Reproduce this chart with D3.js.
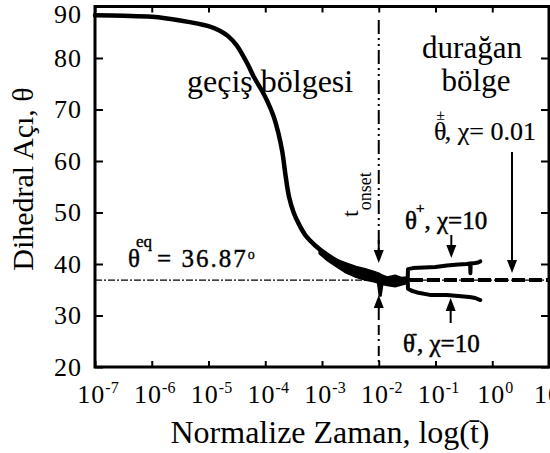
<!DOCTYPE html>
<html>
<head>
<meta charset="utf-8">
<script src="https://cdn.jsdelivr.net/npm/d3@7"></script>
<style>
  html, body { margin: 0; padding: 0; background: #fff; }
  svg { display: block; }
  svg text { font-family: 'Liberation Serif', 'Times New Roman', Times, serif; fill: #000; }
</style>
</head>
<body>
<svg id="chart" width="550" height="453"></svg>
<script>
// Dihedral angle relaxation versus normalised time

// tick values
const xDecades = [-7, -6, -5, -4, -3, -2, -1, 0, 1];
const yTicks = [20, 30, 40, 50, 60, 70, 80, 90];

// equilibrium angle
const thetaEq = 36.87;
const tOnset = 1e-2;

// common transition curve (log10 t, theta in degrees)
const mainLogT  = [-7.0, -6.5, -6.0, -5.5, -5.0, -4.8, -4.65, -4.5, -4.4, -4.3, -4.2, -4.05, -3.95, -3.85, -3.77, -3.70, -3.64, -3.58, -3.50, -3.40, -3.28, -3.12, -2.95, -2.75, -2.55, -2.35, -2.15, -2.0, -1.85, -1.70, -1.55, -1.48];
const mainTheta = [88.3, 88.2, 88.0, 87.3, 86.2, 85.3, 84.2, 82.4, 80.6, 78.6, 76.3, 73.5, 71.3, 68.6, 65.5, 61.8, 57.0, 53.0, 50.0, 47.6, 45.4, 43.6, 42.1, 40.7, 39.6, 38.8, 38.0, 37.4, 37.1, 36.9, 37.0, 37.0];

// spread of the overlapping runs close to equilibrium
const bandLogT  = [-3.05, -2.9, -2.75, -2.6, -2.4, -2.24, -2.07, -2.02, -1.99, -1.96, -1.93, -1.85, -1.71, -1.6, -1.5];
const bandUpper = [42.6, 41.6, 40.9, 40.3, 39.5, 39.1, 38.5, 38.3, 38.2, 38.0, 37.8, 37.5, 37.8, 37.4, 37.5];
const bandLower = [42.0, 40.6, 39.5, 38.4, 37.4, 36.9, 36.5, 36.3, 33.8, 33.8, 36.0, 35.8, 35.6, 35.9, 36.2];

// chi = 10 branches
const plusLogT   = [-1.49, -1.485, -1.40, -1.2, -1.0, -0.8, -0.6, -0.45, -0.39, -0.385, -0.38, -0.30, -0.25, -0.21];
const plusTheta  = [37.0, 39.0, 39.2, 39.3, 39.4, 39.7, 39.9, 40.0, 40.1, 38.2, 40.1, 40.2, 40.3, 40.5];
const minusLogT  = [-1.49, -1.485, -1.42, -1.3, -1.1, -0.8, -0.6, -0.4, -0.3, -0.21];
const minusTheta = [37.0, 35.2, 34.8, 34.4, 34.0, 34.0, 33.8, 33.6, 33.4, 33.0];

// chi = 0.01 run
const steadyLogT  = [-1.45, 1.0];
const steadyTheta = [36.9, 36.9];

const FONT = "Liberation Serif";
const svg = d3.select("#chart").attr("font-family", FONT);
const mLeft = 95, mRight = 549, mTop = 6.5, mBottom = 367;

const x = d3.scaleLog().domain([1e-7, 1e1]).range([mLeft, mRight]);
const y = d3.scaleLinear().domain([20, 90]).range([mBottom, mTop]);

const pts = (lt, th) => lt.map((v, i) => [Math.pow(10, v), th[i]]);
const label = (sel) => sel.append("text").attr("font-family", FONT).attr("fill", "#000");

// equilibrium reference line
svg.append("line")
  .attr("x1", mLeft).attr("x2", mRight)
  .attr("y1", y(thetaEq)).attr("y2", y(thetaEq))
  .attr("stroke", "#000").attr("stroke-width", 1.2)
  .attr("stroke-dasharray", "7,2,2,2");

// region labels
label(svg).attr("x", 187).attr("y", 92)
  .attr("font-size", 32).text("geçiş bölgesi");
label(svg).attr("x", 472).attr("y", 58).attr("text-anchor", "middle")
  .attr("font-size", 31).text("durağan");
label(svg).attr("x", 476).attr("y", 91).attr("text-anchor", "middle")
  .attr("font-size", 31).text("bölge");

// onset marker
const xo = x(tOnset);
svg.append("line")
  .attr("x1", xo).attr("x2", xo).attr("y1", 20).attr("y2", 252)
  .attr("stroke", "#000").attr("stroke-width", 2)
  .attr("stroke-dasharray", "14,4,2,4,2,4");
svg.append("line")
  .attr("x1", xo).attr("x2", xo).attr("y1", 318).attr("y2", mBottom)
  .attr("stroke", "#000").attr("stroke-width", 2)
  .attr("stroke-dasharray", "2,5,10,4");

const tl = label(svg)
  .attr("transform", `translate(358,217) rotate(-90)`)
  .attr("font-size", 24);
tl.append("tspan").text("t");
tl.append("tspan").attr("dy", 13).attr("font-size", 18).text("onset");

// curves
svg.append("path")
  .datum(bandLogT.map((v, i) => [Math.pow(10, v), bandUpper[i], bandLower[i]]))
  .attr("d", d3.area().x(d => x(d[0])).y0(d => y(d[2])).y1(d => y(d[1])))
  .attr("fill", "#000").attr("stroke", "#000").attr("stroke-width", 1.5)
  .attr("stroke-linejoin", "round");

const smooth = d3.line().x(d => x(d[0])).y(d => y(d[1])).curve(d3.curveCatmullRom.alpha(0.5));
svg.append("path").datum(pts(mainLogT, mainTheta))
  .attr("d", smooth)
  .attr("fill", "none").attr("stroke", "#000").attr("stroke-width", 4.5)
  .attr("stroke-linecap", "round").attr("stroke-linejoin", "round");

const lineLin = d3.line().x(d => x(d[0])).y(d => y(d[1]));
[[plusLogT, plusTheta], [minusLogT, minusTheta]].forEach(([lt, th]) => {
  svg.append("path").datum(pts(lt, th))
    .attr("d", lineLin)
    .attr("fill", "none").attr("stroke", "#000").attr("stroke-width", 4)
    .attr("stroke-linecap", "round").attr("stroke-linejoin", "round");
});

svg.append("path").datum(pts(steadyLogT, steadyTheta))
  .attr("d", lineLin)
  .attr("fill", "none").attr("stroke", "#000").attr("stroke-width", 4)
  .attr("stroke-dasharray", "13,4");

// arrows
function arrow(xp, yFrom, yTip) {
  const dir = yTip > yFrom ? 1 : -1;
  const hl = 13, hw = 5;
  svg.append("line").attr("x1", xp).attr("x2", xp)
    .attr("y1", yFrom).attr("y2", yTip - dir * hl)
    .attr("stroke", "#000").attr("stroke-width", 2);
  svg.append("path")
    .attr("d", `M${xp - hw},${yTip - dir * hl} L${xp + hw},${yTip - dir * hl} L${xp},${yTip} Z`)
    .attr("fill", "#000");
}
arrow(xo, 240, 263);
arrow(xo, 318, 295);
arrow(x(0.19), 235, 258);
arrow(x(0.185), 323, 298);
arrow(x(2.23), 152, 273);

// annotations
const eq = label(svg).attr("x", 128).attr("y", 267).attr("font-size", 25)
  .attr("stroke", "#000").attr("stroke-width", 0.4);
eq.append("tspan").text("θ");
eq.append("tspan").attr("dx", -4).attr("dy", -20).attr("font-size", 17).text("eq");
eq.append("tspan").attr("dx", 5).attr("dy", 20).attr("font-size", 25).attr("letter-spacing", 2).text("= 36.87");
eq.append("tspan").attr("dy", -8).attr("font-size", 14).attr("letter-spacing", 0).text("o");

function thetaLabel(xp, yp, mark, rest, size, markDx, markDy, sw) {
  const t = label(svg).attr("x", xp).attr("y", yp).attr("font-size", size)
    .attr("stroke", "#000").attr("stroke-width", sw);
  t.append("tspan").text("θ");
  t.append("tspan").attr("dx", markDx).attr("dy", markDy).attr("font-size", 15).text(mark);
  t.append("tspan").attr("dy", -markDy).attr("font-size", size).text(rest);
}
thetaLabel(405, 229, "+", ", χ=10", 25, -1, -16, 0.5);
thetaLabel(403, 352, "-", ", χ=10", 25, -3, -14, 0.5);
thetaLabel(434, 140, "±", ", χ= 0.01", 26, -10, -20, 0.2);

// axes
const decadeValues = xDecades.map(e => Math.pow(10, e));
svg.append("g").attr("transform", `translate(0,${mBottom})`)
  .call(d3.axisBottom(x).tickValues(decadeValues).tickSize(-6).tickFormat(""))
  .call(g => g.select(".domain").remove())
  .selectAll("line").attr("stroke-width", 2);
svg.append("g").attr("transform", `translate(0,${mTop})`)
  .call(d3.axisTop(x).tickValues(decadeValues).tickSize(-6).tickFormat(""))
  .call(g => g.select(".domain").remove())
  .selectAll("line").attr("stroke-width", 2);
svg.append("g").attr("transform", `translate(${mRight},0)`)
  .call(d3.axisRight(y).tickValues(yTicks).tickSize(-8).tickFormat(""))
  .call(g => g.select(".domain").remove())
  .selectAll("line").attr("stroke-width", 2);

const yAxis = svg.append("g").attr("transform", `translate(${mLeft},0)`)
  .call(d3.axisLeft(y).tickValues(yTicks).tickSize(-8).tickPadding(13))
  .call(g => g.select(".domain").remove())
  .attr("font-family", FONT);
yAxis.selectAll("line").attr("stroke-width", 2);
yAxis.selectAll("text")
  .attr("font-family", FONT).attr("font-size", 26).attr("fill", "#000")
  .attr("letter-spacing", 1)
  .attr("transform", d => d === 90 ? "translate(0,8)" : null);

// decade labels
xDecades.forEach(e => {
  const t = label(svg)
    .attr("x", x(Math.pow(10, e)) + 3).attr("y", 403)
    .attr("text-anchor", "middle").attr("font-size", 26).attr("letter-spacing", 1);
  t.append("tspan").text("10");
  t.append("tspan").attr("dy", -10).attr("font-size", 16).attr("letter-spacing", 0).text(String(e));
});

// frame
svg.append("rect")
  .attr("x", mLeft).attr("y", mTop).attr("width", mRight - mLeft).attr("height", mBottom - mTop)
  .attr("fill", "none").attr("stroke", "#000").attr("stroke-width", 3);

// axis titles
label(svg).attr("x", 330).attr("y", 443).attr("text-anchor", "middle")
  .attr("font-size", 32).text("Normalize Zaman, log(t̄)");
label(svg)
  .attr("transform", "translate(33,179) rotate(-90)")
  .attr("text-anchor", "middle").attr("font-size", 30).text("Dihedral Açı, θ");
</script>
</body>
</html>
